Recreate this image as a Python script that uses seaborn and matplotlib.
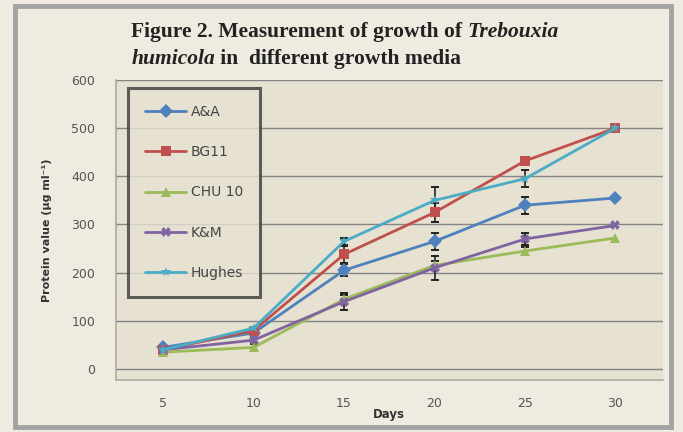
import matplotlib
matplotlib.use("Agg")
import matplotlib.pyplot as plt
import seaborn as sns
import pandas as pd
from matplotlib.patches import Rectangle

# values
days = [5, 10, 15, 20, 25, 30]
media = ["A&A", "BG11", "CHU 10", "K&M", "Hughes"]
aa = [45, 75, 205, 265, 340, 355]
bg11 = [40, 80, 238, 325, 432, 500]
chu10 = [35, 45, 145, 215, 245, 272]
km = [40, 60, 140, 210, 270, 298]
hughes = [40, 85, 265, 350, 395, 500]
err_aa = [0, 0, 12, 18, 18, 0]
err_bg11 = [0, 0, 18, 20, 8, 0]
err_chu10 = [0, 0, 8, 10, 8, 0]
err_km = [0, 8, 18, 25, 12, 0]
err_hughes = [0, 0, 8, 28, 18, 0]

colors = ["#4f81bd", "#c0504d", "#9bbb59", "#8064a2", "#4bacc6"]
marker_map = {"A&A": "D", "BG11": "s", "CHU 10": "^", "K&M": "X", "Hughes": "*"}

series = [aa, bg11, chu10, km, hughes]
errs = [err_aa, err_bg11, err_chu10, err_km, err_hughes]

df = pd.concat(
    [pd.DataFrame({"Days": days, "Protein": s, "Medium": m}) for m, s in zip(media, series)],
    ignore_index=True,
)

sns.set_theme(style="white")
plt.rcParams["font.family"] = ["DejaVu Sans"]

fig = plt.figure(figsize=(6.83, 4.32), dpi=100)
fig.patch.set_facecolor("#efebe1")
ax = fig.add_axes([0.170, 0.120, 0.800, 0.695])
ax.set_facecolor("#e7e1d2")

# outer grey frame
fig.patches.append(Rectangle((0.022, 0.012), 0.960, 0.975, transform=fig.transFigure,
                             fill=False, edgecolor="#a3a3a3", linewidth=3.5))

for s, e in zip(series, errs):
    x_e = [d for d, v in zip(days, e) if v > 0]
    y_e = [y for y, v in zip(s, e) if v > 0]
    e_e = [v for v in e if v > 0]
    ax.errorbar(x_e, y_e, yerr=e_e, fmt="none", ecolor="#222222", elinewidth=1.2,
                capsize=3, capthick=1.4, zorder=3)

sns.lineplot(data=df, x="Days", y="Protein", hue="Medium", style="Medium",
             palette=colors, markers=marker_map, dashes=False, linewidth=2.0,
             markersize=7, markeredgewidth=0, ax=ax, zorder=4)

ax.set_xlim(2.4, 32.6)
ax.set_ylim(-23, 600)
ax.set_xticks(days)
ax.set_yticks(range(0, 601, 100))
ax.yaxis.grid(True, color="#858585", linewidth=1.0)
ax.xaxis.grid(False)
ax.set_axisbelow(True)
ax.tick_params(axis="x", labelsize=9, colors="#555555", length=3, pad=9)
ax.tick_params(axis="y", labelsize=9, colors="#555555", length=3, pad=12)
for sp in ["top", "right"]:
    ax.spines[sp].set_visible(False)
for sp in ["left", "bottom"]:
    ax.spines[sp].set_color("#b0aca0")

ax.set_xlabel("Days", fontsize=8.5, fontweight="bold", color="#333333", labelpad=-1)
ax.set_ylabel("Protein value (µg ml⁻¹)", fontsize=8, fontweight="bold",
              color="#333333", labelpad=14)

leg = ax.legend(loc="upper left", bbox_to_anchor=(0.022, 0.973), fontsize=10,
                labelspacing=1.9, handlelength=3.0, handletextpad=0.3,
                borderpad=1.2, borderaxespad=0.0,
                frameon=True, fancybox=False, title=None)
leg.get_frame().set_edgecolor("#3a3a3a")
leg.get_frame().set_linewidth(2.2)
leg.get_frame().set_facecolor("#e7e1d2")
for t in leg.get_texts():
    t.set_color("#444444")

# title: bold serif with the species name in italics
tkw = dict(fontsize=15.5, fontweight="bold", family="Liberation Serif", color="#222222")
t1 = fig.text(0.192, 0.915, "Figure 2. Measurement of growth of ", **tkw)
fig.canvas.draw()
bb = t1.get_window_extent()
fig.text(bb.x1 / fig.bbox.width, 0.915, "Trebouxia", style="italic", **tkw)
t3 = fig.text(0.192, 0.852, "humicola", style="italic", **tkw)
fig.canvas.draw()
bb = t3.get_window_extent()
fig.text(bb.x1 / fig.bbox.width, 0.852, " in  different growth media", **tkw)

fig.savefig("out.png", dpi=100, facecolor=fig.get_facecolor())
